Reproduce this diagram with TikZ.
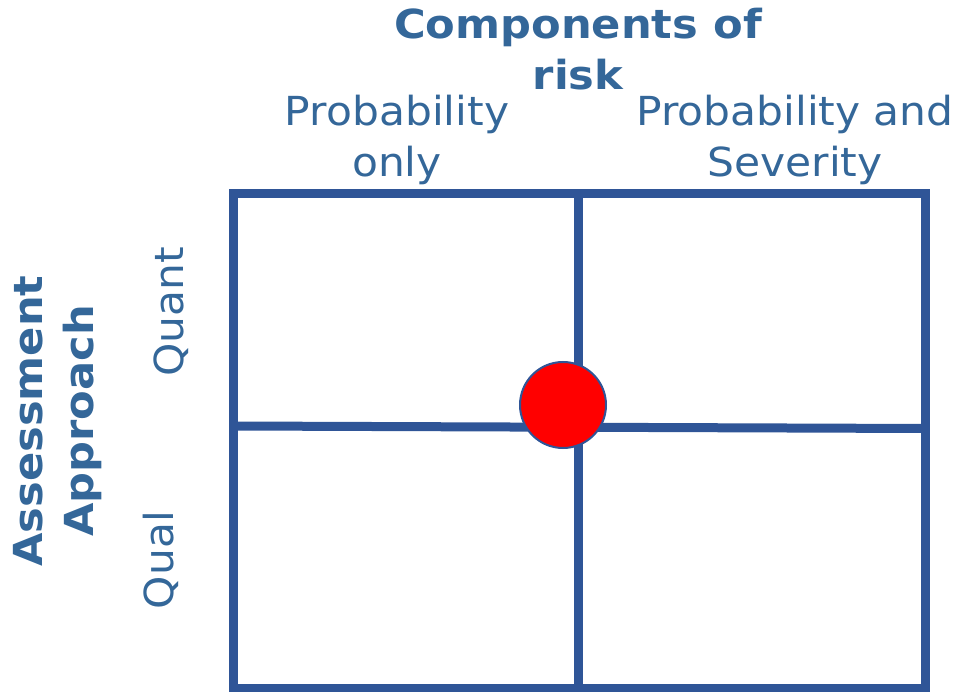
\documentclass[tikz,border=0pt]{standalone}
\usepackage{fontspec}
\setmainfont{DejaVu Sans}[FakeStretch=1.06, BoldFeatures={FakeStretch=1.08}]
\definecolor{gridblue}{RGB}{47,85,151}
\definecolor{textblue}{RGB}{52,103,153}
\tikzset{
  gridline/.style={draw=gridblue, line width=9pt},
  title/.style={text=textblue, font=\bfseries\fontsize{40}{51}\selectfont, align=center, inner sep=0pt},
  label/.style={text=textblue, font=\fontsize{40}{51}\selectfont, align=center, inner sep=0pt},
  dot/.style={circle, fill=red, draw=gridblue, line width=2pt, minimum size=86pt, inner sep=0pt}
}
\begin{document}
\begin{tikzpicture}[x=1pt,y=-1pt]
\useasboundingbox (0,0) rectangle (959,692);
\coordinate (tl) at (233,193.5);
\coordinate (br) at (925,688);
\coordinate (vt) at (578,193.5);
\coordinate (vb) at (578,688);
\coordinate (hl) at (233,426);
\coordinate (hr) at (925,428.5);
\draw[gridline] (tl) rectangle (br);
\draw[gridline] (vt) -- (vb);
\draw[gridline] (hl) -- (hr);
\node[dot] (risk) at (563,405) {};
\node[title, anchor=base] (comp) at (578,90) {Components of\\risk};
\node[label, anchor=base] (ponly) at (397,177) {Probability\\only};
\node[label, anchor=base] (psev) at (795,177) {Probability and\\Severity};
\node[title, rotate=90] (assess) at (58,421) {Assessment\\Approach};
\node[label, rotate=90] (quant) at (171,312) {Quant};
\node[label, rotate=90] (qual) at (161,560) {Qual};
\end{tikzpicture}
\end{document}
